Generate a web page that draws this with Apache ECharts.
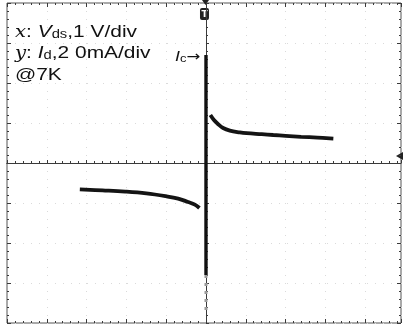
<!DOCTYPE html>
<html>
<head>
<meta charset="utf-8">
<script src="https://cdn.jsdelivr.net/npm/echarts@6/dist/echarts.min.js"></script>
<style>
html,body{margin:0;padding:0;background:#fff;}
#c{width:404px;height:330px;}
</style>
</head>
<body>
<div id="c"></div>
<script>
// Vds in volts (1 V/div), Id in mA (2 mA/div)
const xRange = [-5, 4.9];
const yRange = [-8, 8];
const upperBranch = [[0.11,2.4],[0.2,2.15],[0.3,1.95],[0.43,1.75],[0.6,1.62],[0.85,1.53],[1.02,1.49],[1.4,1.44],[1.69,1.40],[2.0,1.36],[2.39,1.31],[2.8,1.27],[3.2,1.22]];
const lowerBranch = [[-3.17,-1.32],[-2.6,-1.37],[-2.03,-1.43],[-1.5,-1.52],[-1.01,-1.66],[-0.7,-1.78],[-0.45,-1.95],[-0.28,-2.08],[-0.165,-2.25]];
const superTrace = [[0,5.4],[0,-5.6]];
const fadedTrace = [[0,-5.6],[0,-7.6]];
const labelLine1 = ['x', ': ', 'V', 'ds', ',1 V/div'];
const labelLine2 = ['y', ': ', 'I', 'd', ',2 0mA/div'];
const labelLine3 = '@7K';
const icLabel = ['I', 'c', '→'];

const chart = echarts.init(document.getElementById('c'), null, {renderer:'canvas'});
const tickCol = '#3a3a3a';
function xAx(extra){
  return Object.assign({type:'value', min:xRange[0], max:xRange[1], interval:1,
    axisLabel:{show:false}, splitLine:{show:false}}, extra);
}
function yAx(extra){
  return Object.assign({type:'value', min:yRange[0], max:yRange[1], interval:2,
    axisLabel:{show:false}, splitLine:{show:false}}, extra);
}
const lineC = {color:tickCol, width:1};
const option = {
  animation:false,
  backgroundColor:'#fff',
  grid:{left:7, right:3, top:3, bottom:7, show:true, borderColor:'#555', borderWidth:1, backgroundColor:'transparent'},
  xAxis:[
    xAx({axisLine:{onZero:true, onZeroAxisIndex:0, lineStyle:lineC}, axisTick:{inside:true, length:3, lineStyle:lineC},
         minorTick:{show:true, splitNumber:5, length:2, lineStyle:lineC},
         splitLine:{show:true, lineStyle:{color:'#dadada', type:[1,7]}}}),
    xAx({axisLine:{onZero:true, onZeroAxisIndex:0, lineStyle:lineC}, axisTick:{inside:false, length:3, lineStyle:lineC},
         minorTick:{show:true, splitNumber:5, length:2, lineStyle:lineC}}),
    xAx({position:'top', axisLine:{onZero:false, show:false}, axisTick:{inside:true, length:4, lineStyle:lineC},
         minorTick:{show:true, splitNumber:5, length:2, lineStyle:lineC}}),
    xAx({position:'bottom', axisLine:{onZero:false, show:false}, axisTick:{inside:true, length:4, lineStyle:lineC},
         minorTick:{show:true, splitNumber:5, length:2, lineStyle:lineC}})
  ],
  yAxis:[
    yAx({axisLine:{onZero:true, onZeroAxisIndex:0, lineStyle:lineC}, axisTick:{inside:true, length:3, lineStyle:lineC},
         minorTick:{show:true, splitNumber:5, length:2, lineStyle:lineC},
         splitLine:{show:true, lineStyle:{color:'#dadada', type:[1,7]}}}),
    yAx({axisLine:{onZero:true, onZeroAxisIndex:0, lineStyle:lineC}, axisTick:{inside:false, length:3, lineStyle:lineC},
         minorTick:{show:true, splitNumber:5, length:2, lineStyle:lineC}}),
    yAx({position:'left', axisLine:{onZero:false, show:false}, axisTick:{inside:true, length:4, lineStyle:lineC},
         minorTick:{show:true, splitNumber:5, length:2, lineStyle:lineC}}),
    yAx({position:'right', axisLine:{onZero:false, show:false}, axisTick:{inside:true, length:4, lineStyle:lineC},
         minorTick:{show:true, splitNumber:5, length:2, lineStyle:lineC}})
  ],
  series:[
    {type:'line', data:fadedTrace, symbol:'none', z:3, lineStyle:{color:'#9a9a9a', width:3, type:[3,5]}},
    {type:'line', data:superTrace, symbol:'none', z:4, lineStyle:{color:'#111', width:3.4}},
    {type:'line', data:upperBranch, symbol:'none', smooth:0.4, z:4, lineStyle:{color:'#141414', width:3.8}},
    {type:'line', data:lowerBranch, symbol:'none', smooth:0.4, z:4, lineStyle:{color:'#141414', width:3.8}}
  ]
};
chart.setOption(option);

const cx = chart.convertToPixel({xAxisIndex:0}, 0);
const cy = chart.convertToPixel({yAxisIndex:0}, 0);
const icY = chart.convertToPixel({yAxisIndex:0}, superTrace[0][1]);
const right = chart.convertToPixel({xAxisIndex:0}, xRange[1]);
const rich = {
  m:{fontFamily:'DejaVu Serif', fontStyle:'italic', fontSize:16, lineHeight:21, verticalAlign:'bottom', fill:'#111'},
  n:{fontFamily:'Liberation Sans', fontSize:17, lineHeight:21, verticalAlign:'bottom', fill:'#111'},
  i:{fontFamily:'Liberation Sans', fontStyle:'italic', fontSize:17, lineHeight:21, verticalAlign:'bottom', fill:'#111'},
  s:{fontFamily:'Liberation Sans', fontSize:12, lineHeight:21, verticalAlign:'bottom', fill:'#111'},
  ii:{fontFamily:'Liberation Sans', fontStyle:'italic', fontSize:15, lineHeight:18, verticalAlign:'bottom', fill:'#111'},
  ss:{fontFamily:'Liberation Sans', fontSize:11, lineHeight:18, verticalAlign:'bottom', fill:'#111'},
  a:{fontFamily:'DejaVu Sans', fontSize:14, lineHeight:18, verticalAlign:'bottom', fill:'#111'}
};
function line(parts){
  return '{m|'+parts[0]+'}{n|'+parts[1]+'}{i|'+parts[2]+'}{s|'+parts[3]+'}{n|'+parts[4]+'}';
}
chart.setOption({graphic:[
  {type:'text', x:15, y:20, scaleX:1.23, style:{text:line(labelLine1), rich:rich}},
  {type:'text', x:15, y:41, scaleX:1.23, style:{text:line(labelLine2), rich:rich}},
  {type:'text', x:15, y:63, scaleX:1.23, style:{text:'{n|'+labelLine3+'}', rich:rich}},
  {type:'text', x:cx-31, y:icY-9, scaleX:1.18, style:{text:'{ii|'+icLabel[0]+'}{ss|'+icLabel[1]+'}{a|'+icLabel[2]+'}', rich:rich}},
  {type:'polygon', shape:{points:[[cx-4,0],[cx+3,0],[cx-0.5,5]]}, style:{fill:'#222'}},
  {type:'rect', shape:{x:cx-6, y:8, width:9, height:12, r:2}, style:{fill:'#222'}},
  {type:'text', x:cx-1.5, y:14.5, style:{text:'T', fill:'#fff', fontFamily:'DejaVu Sans', fontWeight:'bold', fontSize:9, align:'center', verticalAlign:'middle'}},
  {type:'polygon', shape:{points:[[right-5,cy-7],[right+2,cy-11],[right+2,cy-3]]}, style:{fill:'#222'}}
]});
</script>
</body>
</html>
